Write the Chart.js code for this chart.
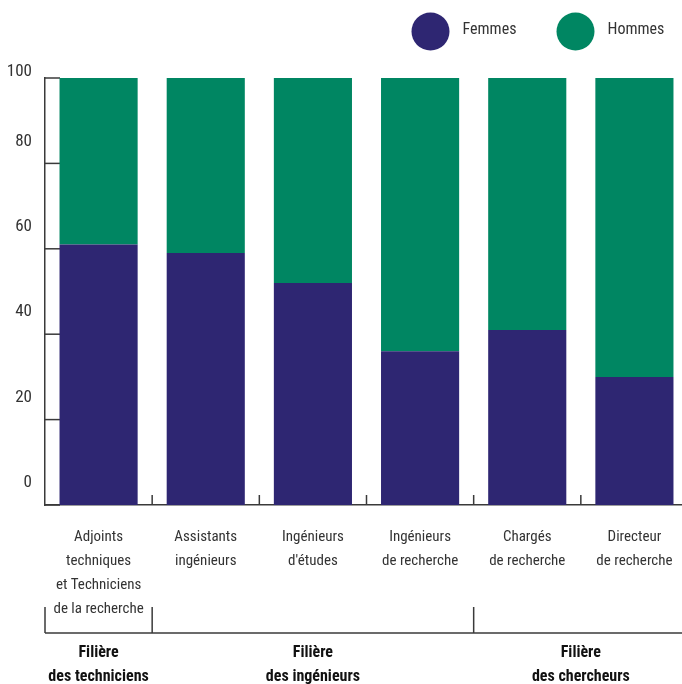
<!DOCTYPE html>
<html><head><meta charset="utf-8">
<script src="https://cdn.jsdelivr.net/npm/chart.js@4/dist/chart.umd.min.js"></script>
<style>
html,body{margin:0;padding:0;overflow:hidden;background:#fff;}
#wrap{width:694px;height:684px;}
</style></head><body>
<div id="wrap"><canvas id="c" width="694" height="684"></canvas></div>
<script>
const categories = [["Adjoints","techniques","et Techniciens","de la recherche"],["Assistants","ingénieurs"],["Ingénieurs","d'études"],["Ingénieurs","de recherche"],["Chargés","de recherche"],["Directeur","de recherche"]];
const femmes = [61, 59, 52, 36, 41, 30];
const hommes = [39, 41, 48, 64, 59, 70];
const yTicks = [0, 20, 40, 60, 80, 100];
const groupLabels = [["Filière","des techniciens"],["Filière","des ingénieurs"],["Filière","des chercheurs"]];
const groupStart = [0, 1, 4];
const groupEnd = [0, 3, 5];

const FONT = '"Roboto Condensed", Roboto, "DejaVu Sans Condensed", sans-serif';
const C_F = '#2E2672', C_H = '#008662', AXIS = '#3a3a3a', TXT = '#333333';

const decor = {
  id: 'decor',
  beforeDatasetsDraw(chart) {
    const ctx = chart.ctx, y = chart.scales.y, x = chart.scales.x, ca = chart.chartArea;
    ctx.save();
    ctx.strokeStyle = AXIS; ctx.lineWidth = 1.5;
    y.ticks.forEach(t => {
      const py = y.getPixelForValue(t.value);
      ctx.beginPath(); ctx.moveTo(ca.left, py); ctx.lineTo(ca.left + 15, py); ctx.stroke();
    });
    for (let i = 1; i < categories.length; i++) {
      const bx = (x.getPixelForValue(i - 1) + x.getPixelForValue(i)) / 2;
      ctx.beginPath(); ctx.moveTo(bx, ca.bottom); ctx.lineTo(bx, ca.bottom - 10); ctx.stroke();
    }
    ctx.restore();
  },
  afterDraw(chart) {
    const ctx = chart.ctx, y = chart.scales.y, x = chart.scales.x, ca = chart.chartArea;
    ctx.save();
    // y tick labels
    ctx.fillStyle = TXT; ctx.font = '17px ' + FONT; ctx.textAlign = 'right'; ctx.textBaseline = 'middle';
    y.ticks.forEach(t => {
      const shift = t.value === y.max ? -6 : -22;
      ctx.fillText(String(t.value), ca.left - 13, y.getPixelForValue(t.value) + shift);
    });
    // legend
    const ds = chart.data.datasets;
    const lx = [430.5, 575.5];
    ds.forEach((d, i) => {
      ctx.fillStyle = d.backgroundColor;
      ctx.beginPath(); ctx.arc(lx[i], 31.5, 19, 0, Math.PI * 2); ctx.fill();
      ctx.fillStyle = TXT; ctx.font = '16px ' + FONT; ctx.textAlign = 'left'; ctx.textBaseline = 'middle';
      ctx.fillText(d.label, lx[i] + 32, 30);
    });
    // group brackets
    const bound = i => i <= 0 ? ca.left : (x.getPixelForValue(i - 1) + x.getPixelForValue(i)) / 2;
    ctx.strokeStyle = AXIS; ctx.lineWidth = 1.5;
    const by = 633;
    ctx.beginPath(); ctx.moveTo(ca.left, by); ctx.lineTo(chart.width, by); ctx.stroke();
    groupStart.forEach(s => {
      const bx = bound(s);
      ctx.beginPath(); ctx.moveTo(bx, by); ctx.lineTo(bx, by - 26); ctx.stroke();
    });
    ctx.fillStyle = '#111'; ctx.font = 'bold 16px ' + FONT; ctx.textAlign = 'center'; ctx.textBaseline = 'middle';
    groupLabels.forEach((lines, g) => {
      const cx = (x.getPixelForValue(groupStart[g]) + x.getPixelForValue(groupEnd[g])) / 2;
      lines.forEach((ln, k) => ctx.fillText(ln, cx, 653 + k * 24));
    });
    ctx.restore();
  }
};

new Chart(document.getElementById('c'), {
  type: 'bar',
  data: {
    labels: categories,
    datasets: [
      { label: 'Femmes', data: femmes, backgroundColor: C_F },
      { label: 'Hommes', data: hommes, backgroundColor: C_H }
    ]
  },
  options: {
    responsive: false,
    animation: false,
    layout: { padding: { left: 45, right: 6, top: 78, bottom: 43 } },
    datasets: { bar: { barPercentage: 0.729, categoryPercentage: 1, borderWidth: 0 } },
    plugins: { legend: { display: false }, tooltip: { enabled: false } },
    scales: {
      x: {
        stacked: true,
        grid: { display: false, drawTicks: false },
        border: { display: true, color: AXIS, width: 1.5 },
        ticks: { color: TXT, font: { family: FONT, size: 15, lineHeight: 1.6 }, padding: 20, maxRotation: 0, autoSkip: false }
      },
      y: {
        stacked: true, min: 0, max: 100,
        afterBuildTicks: s => { s.ticks = yTicks.map(v => ({ value: v })); },
        grid: { display: false, drawTicks: false },
        border: { display: true, color: AXIS, width: 1.5 },
        ticks: { display: false }
      }
    }
  },
  plugins: [decor]
});
</script>
</body></html>
